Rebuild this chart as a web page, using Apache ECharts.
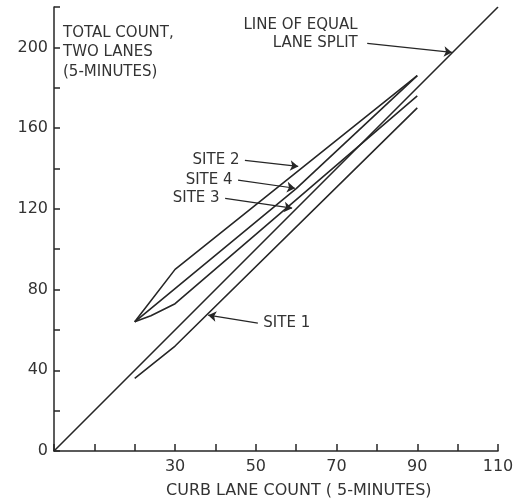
<!DOCTYPE html>
<html>
<head>
<meta charset="utf-8">
<script src="https://cdn.jsdelivr.net/npm/echarts@6/dist/echarts.min.js"></script>
<style>
html,body{margin:0;padding:0;background:#fff;}
#chart{width:527px;height:502px;}
</style>
</head>
<body>
<div id="chart"></div>
<script>
// ---- data ----
const xTickLabels = [30, 50, 70, 90, 110];
const yTickLabels = [0, 40, 80, 120, 160, 200];
const equalSplit = [[0, 0], [110, 220]];
const site1 = [[20, 36], [30, 52], [90, 170]];
const site2 = [[20, 64], [30, 90], [90, 186]];
const site3 = [[20, 64], [24, 67], [30, 73], [90, 176]];
const site4 = [[20, 64], [60, 130], [90, 186]];
// annotation labels: text, arrow start (data), arrow end (data), side
const annoText = ['LINE OF EQUAL\nLANE SPLIT', 'SITE 2', 'SITE 4', 'SITE 3', 'SITE 1'];
const annoFrom = [[77.6, 202], [47.3, 144], [45.6, 134.2], [42.4, 125.2], [50.5, 63.4]];
const annoTo = [[98.6, 197.5], [60.5, 141], [59.7, 130.2], [59, 120.3], [38.2, 67.3]];
const annoSide = ['left', 'left', 'left', 'left', 'right'];

const FONT = 'DejaVu Sans';
const INK = '#262626';
const TXT = '#333';

const chart = echarts.init(document.getElementById('chart'), null, {renderer: 'canvas'});

function lineSeries(name, data, extra) {
  return Object.assign({
    name: name,
    type: 'line',
    data: data,
    showSymbol: false,
    symbol: 'none',
    silent: true,
    animation: false,
    lineStyle: {color: INK, width: 1.6}
  }, extra || {});
}

const markLineData = annoFrom.map((p, i) => [{coord: p}, {coord: annoTo[i]}]);
const markPointData = annoFrom.map((p, i) => ({
  coord: p,
  label: {
    show: true,
    formatter: annoText[i],
    position: annoSide[i],
    distance: i === 0 ? 9 : 5,
    offset: i === 0 ? [0, -9] : [0, 0],
    align: annoSide[i] === 'left' ? 'right' : 'left',
    color: TXT,
    fontFamily: FONT,
    fontSize: 15,
    lineHeight: 18
  }
}));

const option = {
  animation: false,
  backgroundColor: '#fff',
  grid: {left: 54, right: 29, top: 7, bottom: 51, containLabel: false},
  xAxis: {
    type: 'value', min: 0, max: 110, interval: 10,
    axisLine: {show: true, lineStyle: {color: INK, width: 1.5}},
    axisTick: {show: true, inside: true, length: 7, lineStyle: {color: INK, width: 1.5}},
    axisLabel: {
      formatter: v => xTickLabels.includes(v) ? String(v) : '',
      color: TXT, fontFamily: FONT, fontSize: 16, margin: 8
    },
    splitLine: {show: false}
  },
  yAxis: {
    type: 'value', min: 0, max: 220, interval: 20,
    axisLine: {show: true, lineStyle: {color: INK, width: 1.5}},
    axisTick: {show: true, inside: true, length: 6, lineStyle: {color: INK, width: 1.5}},
    axisLabel: {
      formatter: v => yTickLabels.includes(v) ? String(v) : '',
      color: TXT, fontFamily: FONT, fontSize: 16, margin: 6
    },
    splitLine: {show: false}
  },
  series: [
    lineSeries('Line of equal lane split', equalSplit, {
      markLine: {
        silent: true,
        animation: false,
        symbol: ['none', 'arrow'],
        symbolSize: 8,
        label: {show: false},
        lineStyle: {color: INK, width: 1.2, type: 'solid'},
        data: markLineData
      },
      markPoint: {
        silent: true,
        animation: false,
        symbol: 'circle',
        symbolSize: 1,
        itemStyle: {color: 'rgba(0,0,0,0)'},
        data: markPointData
      }
    }),
    lineSeries('Site 1', site1),
    lineSeries('Site 2', site2),
    lineSeries('Site 3', site3),
    lineSeries('Site 4', site4)
  ],
  graphic: [
    {
      type: 'text', left: 63, top: 23, silent: true,
      style: {text: 'TOTAL COUNT,\nTWO LANES\n(5-MINUTES)', fill: TXT, font: '15px "DejaVu Sans"', lineHeight: 19.5}
    },
    {
      type: 'text', left: 166, top: 483, silent: true,
      style: {text: 'CURB LANE COUNT ( 5-MINUTES)', fill: TXT, font: '16px "DejaVu Sans"'}
    }
  ]
};
chart.setOption(option);
</script>
</body>
</html>
